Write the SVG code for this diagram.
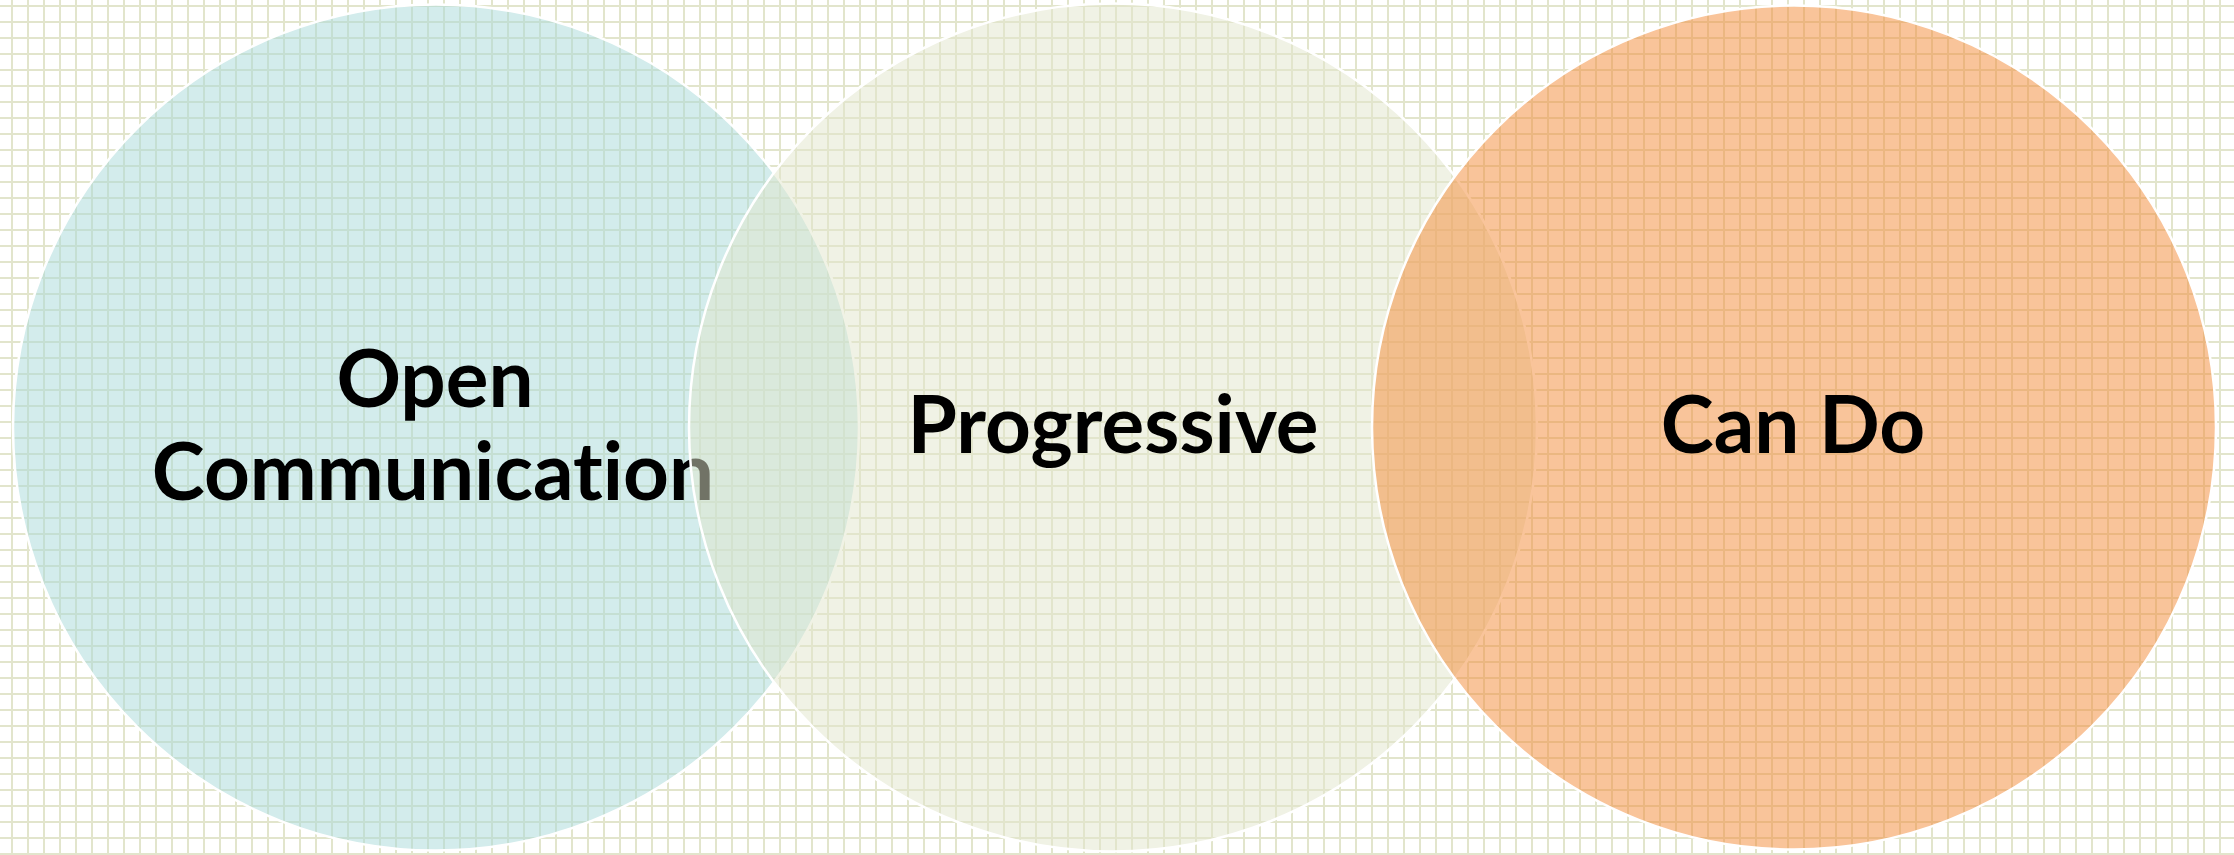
<svg xmlns="http://www.w3.org/2000/svg" width="2234" height="855" viewBox="0 0 2234 855">
<defs>
<pattern id="grid" patternUnits="userSpaceOnUse" x="0" y="0" width="16" height="16">
<rect x="11" y="0" width="2" height="16" fill="#E2E5CC"/>
<rect x="0" y="5" width="16" height="2" fill="#E2E5CC"/>
</pattern>
</defs>
<style>
.c{stroke:#FFFFFF;stroke-width:2.5;fill-opacity:0.5}
.t{font-family:Lato,"Open Sans","Liberation Sans",sans-serif;font-weight:700;font-size:80px;fill:#000000;text-anchor:middle;font-variant-ligatures:none;font-feature-settings:"liga" 0,"clig" 0}
</style>
<rect x="0" y="0" width="2234" height="855" fill="#FFFFFF"/>
<rect x="0" y="0" width="2234" height="855" fill="url(#grid)"/>
<g id="node-open-communication">
<circle class="c" cx="436" cy="427.5" r="423" fill="#A8DAD9"/>
<text class="t" x="435" y="407">Open</text>
<text class="t" x="433" y="500">Communication</text>
</g>
<g id="node-progressive">
<circle class="c" cx="1113" cy="427.5" r="424" fill="#E1E5CB"/>
<text class="t" x="1113" y="453">Progressive</text>
</g>
<g id="node-can-do">
<circle class="c" cx="1794" cy="427.5" r="422" fill="#F38935"/>
<text class="t" x="1793" y="453" font-size="79">Can Do</text>
</g>
<g id="connectors"/>
</svg>
